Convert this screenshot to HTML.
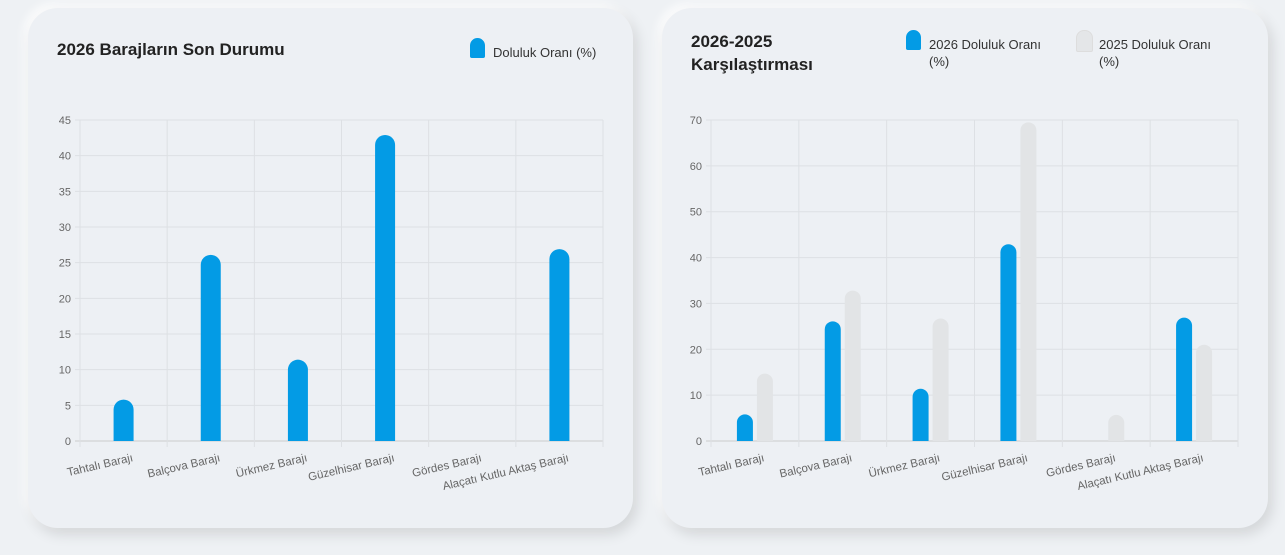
<!DOCTYPE html>
<html><head><meta charset="utf-8"><style>
body{margin:0;width:1285px;height:555px;background:#eef1f4;font-family:"Liberation Sans",sans-serif;overflow:hidden;position:relative}
.card{position:absolute;top:8px;height:520px;background:#edf0f4;border-radius:30px;box-shadow:4px 6px 14px rgba(0,0,0,0.12),-4px -4px 10px rgba(255,255,255,0.9)}
.t{position:absolute;font-weight:bold;font-size:17px;color:#222}
.lg{position:absolute;font-size:13px;color:#333;line-height:17px}
.ic{position:absolute;width:15px;height:20px;border-radius:8px 8px 2px 2px}
svg{position:absolute;left:0;top:0}
</style></head><body>
<div class="card" style="left:28px;width:605px"></div>
<div class="card" style="left:662px;width:606px"></div>
<div class="t" style="left:57px;top:40px">2026 Barajların Son Durumu</div>
<div class="ic" style="left:470px;top:38px;background:#039be5"></div>
<div class="lg" style="left:493px;top:44px">Doluluk Oranı (%)</div>
<div class="t" style="left:691px;top:30px;line-height:23px">2026-2025<br>Karşılaştırması</div>
<div class="ic" style="left:906px;top:30px;background:#039be5"></div>
<div class="lg" style="left:929px;top:36px">2026 Doluluk Oranı<br>(%)</div>
<div class="ic" style="left:1076px;top:30px;background:#e4e6e8;border:1px solid #ddd"></div>
<div class="lg" style="left:1099px;top:36px">2025 Doluluk Oranı<br>(%)</div>
<svg id="s" width="1285" height="555"></svg>
<script>
const categories=["Tahtalı Barajı","Balçova Barajı","Ürkmez Barajı","Güzelhisar Barajı","Gördes Barajı","Alaçatı Kutlu Aktaş Barajı"];
const values2026=[5.8,26.1,11.4,42.9,0,26.9];
const values2025=[14.7,32.8,26.7,69.5,5.7,21.0];
const ticks1=[0,5,10,15,20,25,30,35,40,45];
const ticks2=[0,10,20,30,40,50,60,70];
const svg=document.getElementById('s');
const NS='http://www.w3.org/2000/svg';
function mk(t,a){const e=document.createElementNS(NS,t);for(const k in a)e.setAttribute(k,a[k]);svg.appendChild(e);return e;}
function bar(x,w,y0,y1,fill){const h=y0-y1;if(h<=0)return null;const r=Math.min(w/2,h);
 return mk('path',{d:`M${x},${y0}V${y1+r}A${w/2},${r} 0 0 1 ${x+w},${y1+r}V${y0}Z`,fill:fill});}
function chart(x0,x1,ticks,max,series,colors,bw,gap,id){
 const yT=120,yB=441;const ys=v=>yB-(v/max)*(yB-yT);const n=categories.length;const cw=(x1-x0)/n;
 ticks.forEach(t=>{const y=ys(t);const l=mk('line',{x1:x0-5,x2:x1,y1:y,y2:y,stroke:t===0?'#ccc':'#dde0e4'});
  
  const tx=mk('text',{x:x0-9,y:y+4,'text-anchor':'end','font-size':11,fill:'#666'});tx.textContent=t;
  });
 for(let i=0;i<=n;i++){const x=x0+i*cw;const l=mk('line',{x1:x,x2:x,y1:yT,y2:yB+6,stroke:'#dde0e4'});
  }
 categories.forEach((c,i)=>{const cx=x0+(i+0.5)*cw;const tot=series.length*bw+(series.length-1)*gap;
  series.forEach((s,j)=>{const bx=cx-tot/2+j*(bw+gap);const b=bar(bx,bw,yB,ys(s[i]),colors[j]);
   if(b){}});
  const ax=cx+10,ay=yB+20;
  const tx=mk('text',{x:ax,y:ay,'text-anchor':'end','font-size':11.5,fill:'#666',transform:`rotate(-13 ${ax} ${ay})`});
  tx.textContent=c;});
}
chart(80,603,ticks1,45,[values2026],['#039be5'],20,0,'chart1');
chart(711,1238,ticks2,70,[values2026,values2025],['#039be5','#e2e4e6'],16,4,'chart2');
</script>
</body></html>
